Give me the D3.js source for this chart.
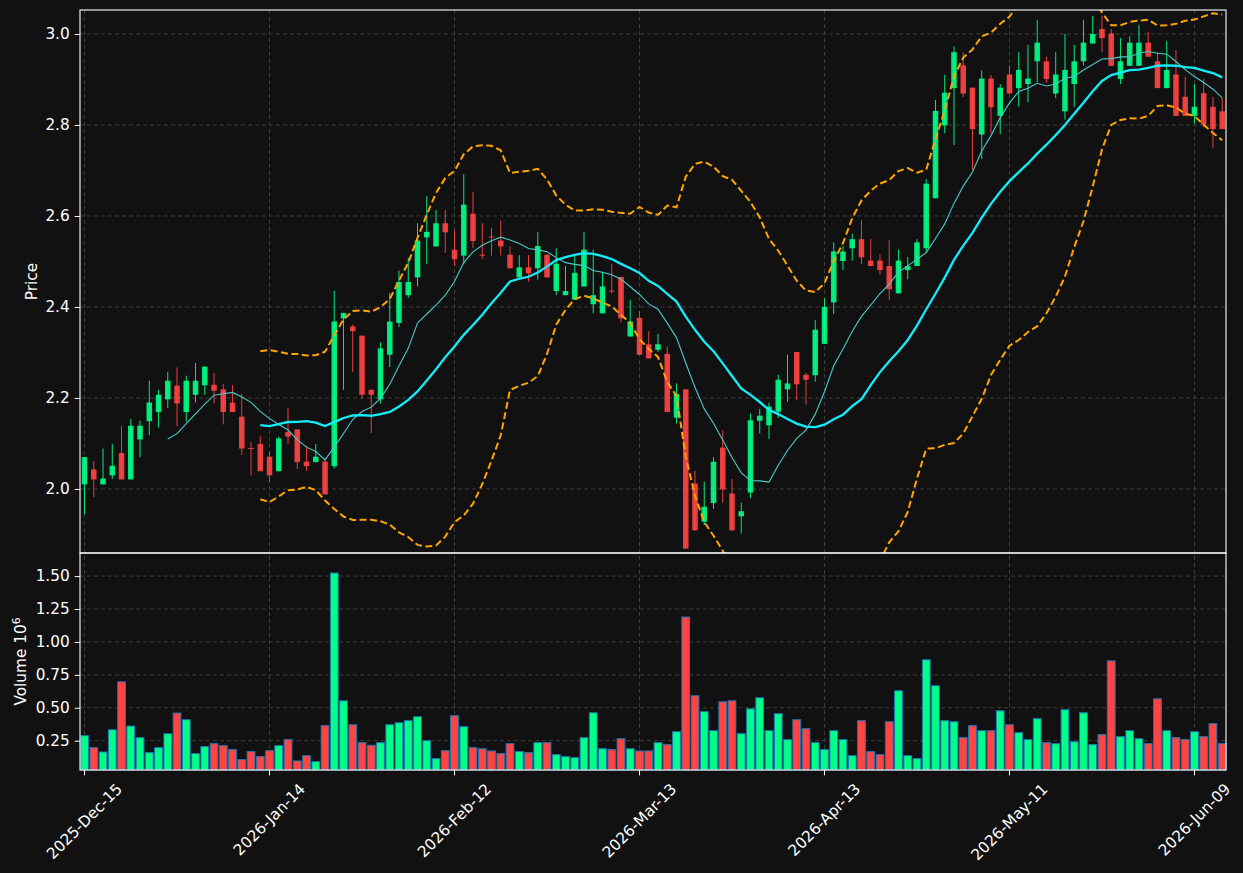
<!DOCTYPE html>
<html>
<head>
<meta charset="utf-8">
<script src="https://cdn.jsdelivr.net/npm/d3@7"></script>
<style>
  body { margin: 0; background: #111111; }
  svg { display: block; font-family: 'DejaVu Sans', sans-serif; }
</style>
</head>
<body>
<svg id="chart" width="1243" height="873"></svg>
<script>
const colours = {
  bg: '#111111',
  up: '#00ff88',
  down: '#ff4444',
  volEdge: '#1f77b4',
  grid: '#3d3d3d',
  text: '#ffffff',
  maFast: '#4cc9c9',
  maSlow: '#14ecfa',
  band: '#ffa500',
};

// x tick labels every 20 sessions
const tickIndex = [0, 20, 40, 60, 80, 100, 120];
const tickLabels = ['2025-Dec-15', '2026-Jan-14', '2026-Feb-12', '2026-Mar-13', '2026-Apr-13', '2026-May-11', '2026-Jun-09'];
const priceTicks = [2.0, 2.2, 2.4, 2.6, 2.8, 3.0];
const volumeTicks = [0.25, 0.5, 0.75, 1.0, 1.25, 1.5];

const opens = [
  2.010, 2.043, 2.010, 2.030, 2.079, 2.021, 2.109, 2.149, 2.169, 2.197,
  2.227, 2.169, 2.207, 2.228, 2.229, 2.219, 2.190, 2.159, 2.090, 2.099,
  2.071, 2.039, 2.125, 2.131, 2.060, 2.059, 2.060, 2.050, 2.375, 2.357,
  2.337, 2.218, 2.197, 2.295, 2.365, 2.426, 2.465, 2.553, 2.533, 2.584,
  2.526, 2.513, 2.605, 2.515, 2.555, 2.546, 2.515, 2.465, 2.487, 2.485,
  2.515, 2.435, 2.426, 2.416, 2.445, 2.406, 2.386, 2.436, 2.466, 2.335,
  2.376, 2.318, 2.306, 2.297, 2.157, 2.219, 2.012, 1.928, 1.969, 2.091,
  1.990, 1.940, 1.992, 2.150, 2.140, 2.170, 2.219, 2.301, 2.251, 2.250,
  2.319, 2.410, 2.501, 2.529, 2.549, 2.502, 2.502, 2.490, 2.430, 2.481,
  2.490, 2.529, 2.639, 2.799, 2.881, 2.931, 2.882, 2.779, 2.902, 2.820,
  2.911, 2.881, 2.890, 2.940, 2.940, 2.869, 2.830, 2.890, 2.940, 2.979,
  3.011, 3.001, 2.901, 2.930, 2.930, 2.981, 2.940, 2.881, 2.911, 2.862,
  2.820, 2.870, 2.840, 2.830,
];
const highs = [
  2.070, 2.062, 2.089, 2.099, 2.139, 2.154, 2.150, 2.238, 2.218, 2.257,
  2.267, 2.249, 2.277, 2.269, 2.255, 2.231, 2.228, 2.209, 2.103, 2.117,
  2.082, 2.115, 2.179, 2.131, 2.095, 2.099, 2.068, 2.436, 2.387, 2.361,
  2.337, 2.218, 2.322, 2.431, 2.480, 2.508, 2.584, 2.644, 2.613, 2.613,
  2.568, 2.692, 2.653, 2.584, 2.574, 2.590, 2.533, 2.514, 2.514, 2.565,
  2.515, 2.529, 2.490, 2.513, 2.565, 2.526, 2.477, 2.494, 2.466, 2.416,
  2.391, 2.347, 2.341, 2.313, 2.232, 2.219, 2.040, 2.016, 2.070, 2.129,
  2.022, 1.970, 2.166, 2.176, 2.190, 2.251, 2.295, 2.301, 2.255, 2.371,
  2.419, 2.542, 2.534, 2.561, 2.591, 2.549, 2.516, 2.547, 2.526, 2.510,
  2.549, 2.681, 2.855, 2.910, 2.973, 2.960, 2.882, 2.920, 2.910, 2.890,
  2.931, 2.960, 2.976, 3.031, 2.950, 2.960, 3.000, 2.976, 3.031, 3.040,
  3.040, 3.011, 2.991, 2.995, 3.020, 3.005, 2.960, 2.985, 2.965, 2.906,
  2.890, 2.901, 2.862, 2.859,
];
const lows = [
  1.944, 1.982, 2.010, 2.022, 2.021, 2.021, 2.070, 2.118, 2.135, 2.178,
  2.138, 2.148, 2.190, 2.207, 2.188, 2.142, 2.169, 2.075, 2.030, 2.039,
  2.015, 2.039, 2.099, 2.044, 2.040, 2.059, 1.988, 2.045, 2.218, 2.257,
  2.198, 2.123, 2.188, 2.268, 2.356, 2.420, 2.445, 2.494, 2.533, 2.519,
  2.490, 2.494, 2.529, 2.505, 2.513, 2.513, 2.485, 2.465, 2.456, 2.460,
  2.465, 2.426, 2.426, 2.416, 2.445, 2.386, 2.386, 2.430, 2.366, 2.335,
  2.295, 2.287, 2.301, 2.169, 2.144, 1.869, 1.909, 1.921, 1.956, 1.969,
  1.909, 1.902, 1.980, 2.122, 2.110, 2.156, 2.192, 2.196, 2.185, 2.236,
  2.319, 2.384, 2.481, 2.502, 2.494, 2.490, 2.471, 2.416, 2.430, 2.461,
  2.490, 2.519, 2.639, 2.782, 2.756, 2.861, 2.701, 2.725, 2.782, 2.780,
  2.869, 2.840, 2.850, 2.894, 2.893, 2.859, 2.812, 2.840, 2.931, 2.979,
  2.960, 2.930, 2.890, 2.930, 2.930, 2.950, 2.881, 2.881, 2.820, 2.820,
  2.803, 2.795, 2.749, 2.791,
];
const closes = [
  2.070, 2.021, 2.023, 2.051, 2.021, 2.139, 2.139, 2.190, 2.207, 2.238,
  2.188, 2.238, 2.238, 2.269, 2.216, 2.169, 2.169, 2.089, 2.089, 2.039,
  2.030, 2.111, 2.115, 2.059, 2.050, 2.071, 1.988, 2.368, 2.387, 2.347,
  2.207, 2.207, 2.309, 2.368, 2.455, 2.455, 2.546, 2.565, 2.584, 2.564,
  2.505, 2.625, 2.545, 2.513, 2.554, 2.533, 2.485, 2.487, 2.474, 2.534,
  2.465, 2.495, 2.435, 2.475, 2.526, 2.426, 2.445, 2.435, 2.375, 2.368,
  2.295, 2.287, 2.318, 2.169, 2.209, 1.869, 1.909, 1.961, 2.060, 1.999,
  1.909, 1.951, 2.151, 2.161, 2.181, 2.240, 2.232, 2.230, 2.240, 2.350,
  2.400, 2.522, 2.522, 2.549, 2.509, 2.490, 2.481, 2.439, 2.502, 2.490,
  2.542, 2.671, 2.831, 2.871, 2.960, 2.869, 2.791, 2.902, 2.839, 2.882,
  2.869, 2.921, 2.902, 2.981, 2.901, 2.911, 2.921, 2.940, 2.981, 3.000,
  2.991, 2.930, 2.940, 2.981, 2.981, 2.950, 2.881, 2.921, 2.820, 2.820,
  2.840, 2.801, 2.791, 2.791,
];
// volume in millions
const volumes = [
  0.288, 0.197, 0.164, 0.333, 0.697, 0.361, 0.273, 0.159, 0.197, 0.303,
  0.460, 0.409, 0.152, 0.205, 0.227, 0.212, 0.182, 0.106, 0.167, 0.129,
  0.174, 0.212, 0.258, 0.096, 0.136, 0.091, 0.364, 1.523, 0.553, 0.371,
  0.235, 0.215, 0.235, 0.371, 0.386, 0.402, 0.432, 0.250, 0.114, 0.174,
  0.439, 0.356, 0.197, 0.189, 0.172, 0.152, 0.227, 0.167, 0.159, 0.235,
  0.235, 0.144, 0.129, 0.121, 0.273, 0.462, 0.189, 0.182, 0.265, 0.189,
  0.172, 0.172, 0.235, 0.220, 0.318, 1.189, 0.591, 0.470, 0.326, 0.545,
  0.553, 0.303, 0.492, 0.576, 0.326, 0.455, 0.258, 0.409, 0.341, 0.235,
  0.182, 0.326, 0.258, 0.136, 0.402, 0.167, 0.144, 0.394, 0.629, 0.136,
  0.114, 0.864, 0.667, 0.402, 0.394, 0.273, 0.364, 0.326, 0.326, 0.477,
  0.371, 0.311, 0.258, 0.417, 0.235, 0.227, 0.485, 0.242, 0.462, 0.220,
  0.296, 0.856, 0.280, 0.326, 0.265, 0.227, 0.568, 0.326, 0.273, 0.258,
  0.318, 0.280, 0.379, 0.227,
];

const svg = d3.select('#chart');
const left = 80;
const right = 1226;
const priceTop = 10;
const priceBottom = 553;
const volBottom = 770;
const fontSize = 15.3;
const tickLen = 5.3;

svg.append('rect').attr('width', 1243).attr('height', 873).attr('fill', colours.bg);

const xScale = d3.scaleLinear().domain([-0.49, 123.41]).range([left, right]);
const step = xScale(1) - xScale(0);
const yScale = d3.scaleLinear().domain([1.8593, 3.0527]).range([priceBottom, priceTop]);
const vScale = d3
  .scaleLinear()
  .domain([0.3 * d3.min(volumes), 1.1 * d3.max(volumes)])
  .range([volBottom, priceBottom]);

const candles = closes.map((c, i) => ({
  i,
  open: opens[i],
  high: highs[i],
  low: lows[i],
  close: c,
  volume: volumes[i],
  up: c >= opens[i],
}));

// moving averages and bollinger bands from closes
function rolling(n, fn) {
  return closes.map((c, i) => (i < n - 1 ? null : fn(closes.slice(i - n + 1, i + 1))));
}
const maFast = rolling(10, w => d3.mean(w));
const maSlow = rolling(20, w => d3.mean(w));
const sd20 = rolling(20, w => {
  const m = d3.mean(w);
  return Math.sqrt(d3.mean(w, v => (v - m) ** 2));
});
const upper = maSlow.map((m, i) => (m === null ? null : m + 2 * sd20[i]));
const lower = maSlow.map((m, i) => (m === null ? null : m - 2 * sd20[i]));

const defs = svg.append('defs');
defs
  .append('clipPath')
  .attr('id', 'priceClip')
  .append('rect')
  .attr('x', left)
  .attr('y', priceTop)
  .attr('width', right - left)
  .attr('height', priceBottom - priceTop);

// grid lines
const grid = svg.append('g').attr('stroke', colours.grid).attr('stroke-dasharray', '4,3').attr('stroke-width', 1);
tickIndex.forEach(t => {
  grid
    .append('line')
    .attr('x1', xScale(t))
    .attr('x2', xScale(t))
    .attr('y1', priceTop)
    .attr('y2', volBottom);
});
priceTicks.forEach(t => {
  grid.append('line').attr('x1', left).attr('x2', right).attr('y1', yScale(t)).attr('y2', yScale(t));
});
volumeTicks.forEach(t => {
  grid.append('line').attr('x1', left).attr('x2', right).attr('y1', vScale(t)).attr('y2', vScale(t));
});

// candles
const candleG = svg.append('g').attr('clip-path', 'url(#priceClip)');
const bodyW = step * 0.6;
const candleJoin = candleG.selectAll('.candle').data(candles).enter().append('g').classed('candle', true);
candleJoin
  .append('line')
  .attr('x1', d => xScale(d.i))
  .attr('x2', d => xScale(d.i))
  .attr('y1', d => yScale(d.high))
  .attr('y2', d => yScale(d.low))
  .attr('stroke', d => (d.up ? colours.up : colours.down))
  .attr('stroke-opacity', 0.9)
  .attr('stroke-width', 1);
candleJoin
  .append('rect')
  .attr('x', d => xScale(d.i) - bodyW / 2)
  .attr('width', bodyW)
  .attr('y', d => yScale(Math.max(d.open, d.close)))
  .attr('height', d => Math.max(1, Math.abs(yScale(d.open) - yScale(d.close))))
  .attr('fill', d => (d.up ? colours.up : colours.down))
  .attr('fill-opacity', 0.9);

// overlays
const lineGen = d3
  .line()
  .defined(d => d !== null)
  .x((d, i) => xScale(i))
  .y(d => yScale(d));
const overlay = svg.append('g').attr('clip-path', 'url(#priceClip)').attr('fill', 'none');
overlay.append('path').attr('d', lineGen(maFast)).attr('stroke', colours.maFast).attr('stroke-width', 1.1);
overlay.append('path').attr('d', lineGen(maSlow)).attr('stroke', colours.maSlow).attr('stroke-width', 2.3);
[upper, lower].forEach(b => {
  overlay
    .append('path')
    .attr('d', lineGen(b))
    .attr('stroke', colours.band)
    .attr('stroke-width', 2)
    .attr('stroke-dasharray', '7,3.5');
});

// volume bars
const barW = step * 0.84;
svg
  .append('g')
  .selectAll('.vol')
  .data(candles)
  .enter()
  .append('rect')
  .classed('vol', true)
  .attr('x', d => xScale(d.i) - barW / 2)
  .attr('width', barW)
  .attr('y', d => vScale(d.volume))
  .attr('height', d => volBottom - vScale(d.volume))
  .attr('fill', d => (d.up ? colours.up : colours.down))
  .attr('stroke', colours.volEdge)
  .attr('stroke-width', 1);

// panel frames
const frame = svg.append('g').attr('fill', 'none').attr('stroke', colours.text).attr('stroke-width', 1.1);
frame.append('rect').attr('x', left).attr('y', priceTop).attr('width', right - left).attr('height', priceBottom - priceTop);
frame.append('rect').attr('x', left).attr('y', priceBottom).attr('width', right - left).attr('height', volBottom - priceBottom);

// y axes
const priceAxis = d3
  .axisLeft(yScale)
  .tickValues(priceTicks)
  .tickFormat(d3.format('.1f'))
  .tickSize(tickLen)
  .tickPadding(5);
const volAxis = d3
  .axisLeft(vScale)
  .tickValues(volumeTicks)
  .tickFormat(d3.format('.2f'))
  .tickSize(tickLen)
  .tickPadding(5);
[priceAxis, volAxis].forEach(ax => {
  const g = svg.append('g').attr('transform', `translate(${left},0)`).call(ax);
  g.select('.domain').remove();
  g.selectAll('line').attr('stroke', colours.text);
  g.selectAll('text').attr('fill', colours.text).attr('font-size', fontSize).attr('font-family', "'DejaVu Sans', sans-serif");
});

// x axis ticks and rotated labels
const xAxisG = svg.append('g');
tickIndex.forEach((t, k) => {
  const x = xScale(t);
  xAxisG
    .append('line')
    .attr('x1', x)
    .attr('x2', x)
    .attr('y1', volBottom)
    .attr('y2', volBottom + tickLen)
    .attr('stroke', colours.text);
  const label = xAxisG
    .append('text')
    .attr('fill', colours.text)
    .attr('font-size', fontSize)
    .attr('text-anchor', 'middle')
    .attr('dominant-baseline', 'central')
    .text(tickLabels[k]);
  const len = label.node().getComputedTextLength();
  const box = (len + fontSize * 1.15) * Math.SQRT1_2;
  label.attr('transform', `translate(${x},${volBottom + tickLen + 5 + box / 2}) rotate(-45)`);
});

// axis labels
svg
  .append('text')
  .attr('fill', colours.text)
  .attr('font-size', fontSize)
  .attr('text-anchor', 'middle')
  .attr('transform', `translate(37,${(priceTop + priceBottom) / 2}) rotate(-90)`)
  .text('Price');
const volLabel = svg
  .append('text')
  .attr('fill', colours.text)
  .attr('font-size', fontSize)
  .attr('text-anchor', 'middle')
  .attr('transform', `translate(26,${(priceBottom + volBottom) / 2}) rotate(-90)`);
volLabel.append('tspan').text('Volume  10');
volLabel.append('tspan').attr('font-size', fontSize * 0.7).attr('dy', -6).text('6');
</script>
</body>
</html>
